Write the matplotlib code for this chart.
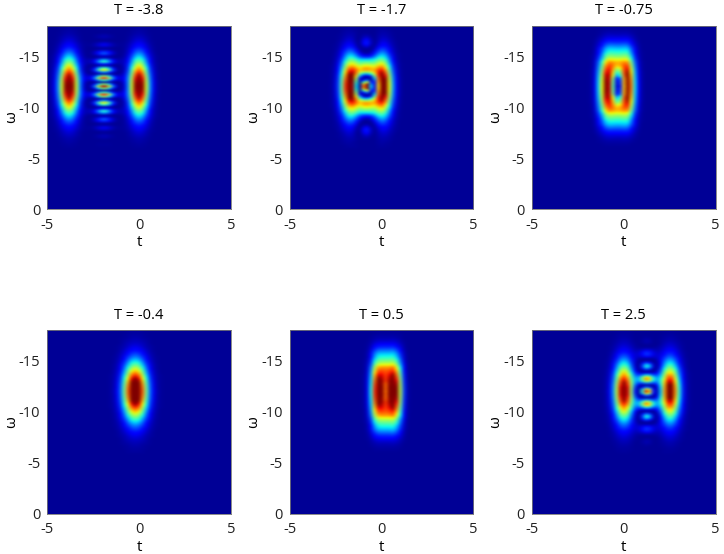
import numpy as np
from matplotlib import pyplot as plt

plt.rcParams['font.family'] = ['Open Sans', 'DejaVu Sans']
plt.rcParams['axes.unicode_minus'] = False

T_LABELS = ['-3.8', '-1.7', '-0.75', '-0.4', '0.5', '2.5']

# omega profiles, read going out from the centre line in steps of 0.2
env_narrow = [1, .997, .988, .974, .954, .93, .9, .867, .829, .789, .746,
              .702, .656, .61, .564, .518, .473, .429, .387, .348, .311,
              .275, .243, .213, .186, .161, .139, .119, .101, .086, .072]
env_wide = [1, .998, .993, .984, .972, .957, .939, .918, .894, .868, .839,
            .809, .777, .72, .67, .63, .59, .55, .52, .48, .43, .38,
            .33, .28, .23, .19, .15, .12, .09, .07, .05]
fringe_a = [1, .719, .038, -.648, -.951, -.719, -.104, .525, .819, .646, .143,
            -.379, -.638, -.525, -.151, .247, .45, .384, .132, -.142, -.288,
            -.254, -.101, .072, .166, .153, .067, -.031, -.087, -.083, -.04]
fringe_b = [1, .96, .82, .62, .42, .16, -.05, -.2, -.29, -.3, -.28, -.25,
            -.22, -.18, -.1, -.02, .05, .11, .17, .23, .29, .32, .3, .26, .2,
            .15, .1, .07, .04, .02, .01]
hole_c = [1, .94, .93, .88, .79, .62, .51, .42, .32, .21, .11, .05, .02, 0, 0,
          0, 0, 0, 0, 0, 0, 0, 0, 0, 0, 0, 0, 0, 0, 0, 0]
fringe_f = [1, .875, .534, .069, -.397, -.66, -.78, -.71, -.48, -.166,
            .212, .497, .63, .596, .425, .18, -.069, -.258, -.353, -.347,
            -.261, -.131, .001, .103, .157, .161, .126, .071, .015, -.029,
            -.055]

# t profiles, steps of 0.2 from the t given as first value
lobes_1 = (-5, [.047, .12, .258, .466, .712, .919, 1, .919, .712, .466, .258,
                .12, .047, .016, .004, 0, 0, .004, .016, .047, .12, .258,
                .466, .712, .919, 1, .919, .712, .466, .258, .12, .047, .016])
mid_1 = (-3.2, [.012, .041, .119, .276, .518, .789, .974, .974, .789, .518,
                .276, .119, .041, .012])
lobes_2 = (-3, [.028, .077, .18, .354, .589, .826, .979, .979, .842, .636,
                .474, .438, .543, .74, .919, 1, .919, .712, .466, .258, .12,
                .047, .016])
mid_2 = (-1.8, [.02, .11, .36, .81, 1.42, 1.55, 1.18, .56, .21, .05])
lobes_3 = (-2, [.02, .1, .27, .56, .79, 1.03, 1.118, 1.11, 1.1, 1.1, 1.118,
                1.1, .88, .58, .3, .12, .03])
mid_3 = (-1.0, [.02, .15, .45, .9, .74, .29, .05])
lobes_4 = (-1.8, [.034, .076, .155, .284, .465, .683, .898, 1.059, 1.118,
                  1.059, .898, .683, .465, .284, .155, .076, .034])
lobes_5 = (-1.2, [.02, .1, .28, .6, .93, 1.08, 1.1, 1.1, 1.1, 1.118, 1.0,
                  .75, .4, .13, .03])
mid_5 = (-0.2, [.02, .1, .22, .1, .02])
lobes_6 = (-1.4, [.016, .047, .12, .258, .466, .712, .919, 1, .919, .712, .466,
                  .258, .12, .075, .093, .18, .354, .589, .826, .979, .979,
                  .826, .589, .354, .18, .077, .028])
mid_6 = (0.4, [.03, .127, .38, .77, 1.04, .94, .57, .23, .063, .01])

# weight, t profile, omega profile for every panel
panels = [
    [(-1.08, lobes_1, env_narrow), (1, mid_1, fringe_a)],
    [(-1.12, lobes_2, env_narrow), (1, mid_2, fringe_b)],
    [(1, lobes_3, env_wide), (-1, mid_3, hole_c)],
    [(1, lobes_4, env_narrow)],
    [(1, lobes_5, env_wide), (-1, mid_5, hole_c)],
    [(-1.05, lobes_6, env_narrow), (1, mid_6, fringe_f)],
]

left_px = [47.3, 289.7, 532]
top_px = [25.5, 330]
AX_W, AX_H = 183.7, 183.7


def t_row(first, values):
    row = np.zeros(51)
    start = int(round((first + 5) / 0.2))
    row[start:start + len(values)] = values
    return row


def w_col(half):
    half = np.array(half, dtype=float)
    return np.concatenate([half[:0:-1], half, np.zeros(30)])


fig = plt.figure(figsize=(7.24, 5.54), dpi=100)
for n, terms in enumerate(panels):
    col, line = n % 3, n // 3
    ax = fig.add_axes([left_px[col] / 724,
                       1 - (top_px[line] + AX_H) / 554,
                       AX_W / 724, AX_H / 554])
    amp = np.zeros((91, 51))
    for weight, (first, values), half in terms:
        amp += weight * np.outer(w_col(half), t_row(first, values))
    ax.imshow(amp ** 2, cmap='jet', vmin=-0.02, vmax=1, aspect='auto',
              interpolation='bicubic', extent=(-5.1, 5.1, 0.1, -18.1))
    ax.set_xlim(-5, 5)
    ax.set_ylim(0, -18)
    ax.set_xticks([-5, 0, 5])
    ax.set_yticks([0, -5, -10, -15])
    ax.tick_params(length=0, labelsize=10.5, colors='#222222')
    ax.tick_params(axis='x', pad=6)
    ax.tick_params(axis='y', pad=5)
    for spine in ax.spines.values():
        spine.set_color('#777777')
        spine.set_linewidth(0.6)
    ax.set_xlabel('t', fontsize=11, labelpad=2)
    ax.set_ylabel('ω', fontsize=11, labelpad=0)
    ax.set_title('T = ' + T_LABELS[n], fontsize=10.5, pad=8)

fig.savefig('out.png', dpi=100)
